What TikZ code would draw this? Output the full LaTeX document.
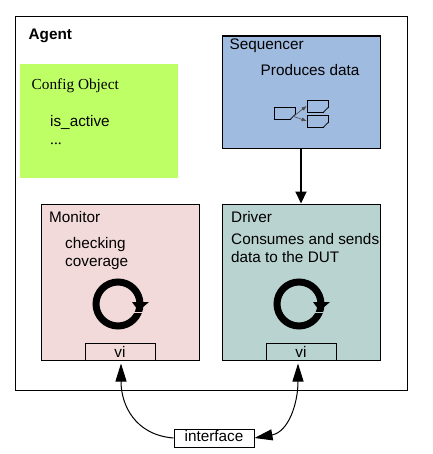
\documentclass[tikz,border=0pt]{standalone}
\usepackage{fontspec}
\usepackage{xcolor}
\setmainfont{Liberation Sans}
\newfontfamily\serifface{Liberation Serif}
\usetikzlibrary{arrows.meta,positioning,calc}
\definecolor{cfgGreen}{RGB}{191,255,102}
\definecolor{seqBlue}{RGB}{160,187,224}
\definecolor{monPink}{RGB}{243,218,218}
\definecolor{drvTeal}{RGB}{185,211,208}

\begin{document}
\begin{tikzpicture}[
  x=1pt, y=-1pt,
  font=\fontsize{15.3}{18}\selectfont,
  blk/.style={draw=black, line width=1pt, minimum width=158pt, minimum height=156pt, inner sep=0pt},
  lbl/.style={anchor=base west, inner sep=0pt, align=left},
  port/.style={draw=black, line width=1pt, minimum width=70pt, minimum height=17pt, inner sep=0pt},
  doc/.style={draw=black, line width=0.8pt, minimum width=21pt, minimum height=12pt, inner sep=0pt},
  ar/.style={-{Triangle[length=18pt, width=11pt]}, line width=1pt}
]
\useasboundingbox (0,0) rectangle (432,454);
\node[draw=black, line width=1pt, minimum width=392pt, minimum height=373pt, inner sep=0pt] (agent) at (211.5,203.5) {};
\node[lbl, font=\fontsize{15.3}{18}\selectfont\bfseries] (agentT) at (28.5,40) {Agent};
% config
\node[fill=cfgGreen, minimum width=158pt, minimum height=114pt, inner sep=0pt] (cfg) at (99,121) {};
\node[lbl, font=\fontsize{15.3}{18}\selectfont\serifface] (cfgT) at (31.5,90) {Config Object};
\node[lbl] (cfgA) at (50,127) {is\_active};
\node[lbl, font=\fontsize{15.3}{18}\selectfont\serifface] (cfgB) at (50,145) {...};
% sequencer
\node[blk, fill=seqBlue, minimum height=112pt] (seq) at (301,93) {};
\draw[line width=2pt] (seq.north west) -- (seq.north east);
\node[lbl] (seqT) at (229.5,50) {Sequencer};
\node[lbl] (seqP) at (260.5,76) {Produces data};
\node[doc] (d0) at (284.5,113) {};
\node[doc] (d1) at (317.5,106) {};
\node[doc] (d2) at (317.5,121) {};
\foreach \n in {d0,d1,d2} {
  \fill[seqBlue] ($(\n.south east)+(-5.2,1)$) -- ($(\n.south east)+(1,1)$) -- ($(\n.south east)+(1,-5.2)$) -- cycle;
  \draw[line width=0.8pt] ($(\n.south east)+(-5.2,0)$) -- ($(\n.south east)+(0,-5.2)$);
}
\foreach \a in {d1,d2} \draw[-{Latex[length=5pt, width=4pt]}, line width=0.6pt, black!70] ($(d0.south east)+(-2,-3)$) -- (\a.west);
% monitor and driver
\node[blk, fill=monPink] (mon) at (120,282) {};
\node[lbl] (monT) at (49,222) {Monitor};
\node[lbl] (monA) at (65,248) {checking};
\node[lbl] (monB) at (65,266) {coverage};
\node[blk, fill=drvTeal] (drv) at (301,282) {};
\node[lbl] (drvT) at (231,222) {Driver};
\node[lbl] (drvA) at (231,244) {Consumes and sends};
\node[lbl] (drvB) at (231,262) {data to the DUT};
\foreach \n/\c in {mon/monPink, drv/drvTeal} {
  \node[port, anchor=south] (vi\n) at (\n.south) {vi};
  \draw[line width=7pt] ($(\n.center)+(-2,22)$) circle[radius=22pt];
  \draw[\c, line width=1pt] ($(\n.center)+(14,30)$) -- ($(\n.center)+(24,30)$);
  \fill[black] ($(\n.center)+(12,20)$) -- ($(\n.center)+(29,20)$) -- ($(\n.center)+(18.5,29)$) -- cycle;
}
% connectors
\node[draw=black, line width=1pt, minimum width=80pt, minimum height=18pt, inner sep=0pt] (iface) at (214,438) {};
\node[anchor=base, inner sep=0pt] (ifaceT) at (214,441) {interface};
\draw[-{Triangle[length=12pt, width=11pt]}, line width=2pt] (seq.south) -- (drv.north);
\draw[ar] (iface.west) .. controls +(-38,-3) and +(0,42) .. ([shift={(1,3)}]vimon.south);
\draw[ar, {Triangle[length=18pt, width=11pt]}-{Triangle[length=18pt, width=11pt]}] (iface.east) .. controls +(34,-6) and +(0,40) .. ([shift={(-3,3)}]vidrv.south);
\end{tikzpicture}
\end{document}
